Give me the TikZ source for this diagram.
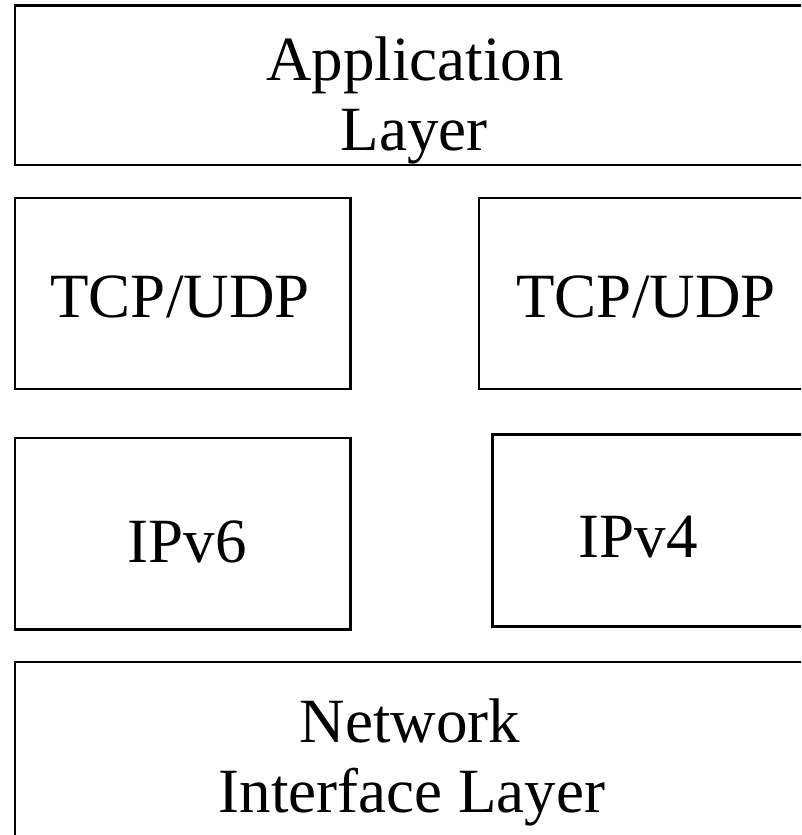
\documentclass[tikz,border=0pt]{standalone}
\usepackage{fontspec}
\setmainfont{Liberation Serif}
\begin{document}
\begin{tikzpicture}[x=1pt,y=1pt,
  layerbox/.style={draw=black,line width=2.6pt},
  lbl/.style={anchor=base,font=\fontsize{63}{72}\selectfont,inner sep=0pt}]
\useasboundingbox (0,0) rectangle (801,-835);
\clip (0,0) rectangle (801,-835);
\draw[layerbox] (15,-5.5) rectangle (830,-165);
\draw[layerbox] (15,-198) rectangle (350.5,-389);
\draw[layerbox] (479,-198) rectangle (830,-389);
\draw[layerbox] (15,-438) rectangle (350.5,-629.5);
\draw[layerbox] (492.5,-434.5) rectangle (830,-626.5);
\draw[layerbox] (15,-662) rectangle (830,-860);
\node[lbl] (app1) at (415,-80) {Application};
\node[lbl] (app2) at (414,-150) {Layer};
\node[lbl] (tcpl) at (180,-317) {TCP/UDP};
\node[lbl] (tcpr) at (646,-317) {TCP/UDP};
\node[lbl] (ip6) at (187,-562) {IPv6};
\node[lbl] (ip4) at (638,-557) {IPv4};
\node[lbl] (net1) at (410,-742) {Network};
\node[lbl] (net2) at (412,-812) {Interface Layer};
\end{tikzpicture}
\end{document}
